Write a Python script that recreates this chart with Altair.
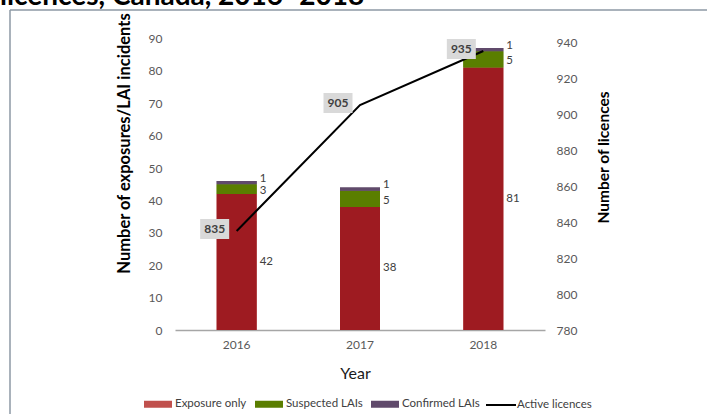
import altair as alt
import pandas as pd

# ---- data ----
years = ["2016", "2017", "2018"]
exposure_only = [42, 38, 81]
suspected_lai = [3, 5, 5]
confirmed_lai = [1, 1, 1]
active_licences = [835, 905, 935]
categories = ["Exposure only", "Suspected LAIs", "Confirmed LAIs"]
line_series = "Active licences"
title_fragment = "licences, Canada, 2016\u20132018"

bar_colors = ["#9e1b21", "#5a7e00", "#604a6b"]
legend_colors = ["#c0504d", "#5a7e00", "#604a6b"]
FONT = "Lato"

rows = []
for i, yr in enumerate(years):
    base = 0
    for k, (cat, vals) in enumerate(zip(categories, [exposure_only, suspected_lai, confirmed_lai])):
        v = vals[i]
        rows.append(dict(year=yr, cat=cat, value=v, ord=k, mid=base + v / 2, label=str(v)))
        base += v
bars_df = pd.DataFrame(rows)
line_df = pd.DataFrame(dict(year=years, licences=active_licences,
                            series=[line_series] * len(years),
                            label=[str(v) for v in active_licences]))
one = pd.DataFrame({"a": [0]})

X = alt.X("year:N", sort=years,
          scale=alt.Scale(type="band", paddingInner=0, paddingOuter=0),
          axis=alt.Axis(labelAngle=0, ticks=False, domainColor="#a6a6a6", domainWidth=1.5,
                        labelPadding=9, labelColor="#595959", labelFontSize=12, labelFont=FONT,
                        title="Year", titleFont=FONT, titleFontSize=16, titleFontWeight="normal",
                        titleColor="#1a1a1a", titleX=180, titleY=48, titleBaseline="alphabetic",
                        titleAlign="center"))

left_axis = alt.Axis(values=list(range(0, 101, 10)),
                     labelExpr="datum.value == 100 ? '' : datum.label",
                     domain=False, ticks=False, grid=False, labelPadding=13,
                     labelColor="#595959", labelFont=FONT, labelFontSize=12,
                     title="Number of exposures/LAI incidents", titleFont=FONT, titleFontSize=16.5,
                     titleFontWeight="bold", titleColor="#000000", titleX=-46, titleY=137,
                     titleAngle=270, titleAlign="center", titleBaseline="alphabetic")
right_axis = alt.Axis(orient="right", values=list(range(780, 961, 20)),
                      labelExpr="datum.value == 960 ? '' : datum.label",
                      domain=False, ticks=False, grid=False, labelPadding=11,
                      labelColor="#595959", labelFont=FONT, labelFontSize=12,
                      title="Number of licences", titleFont=FONT, titleFontSize=15.5,
                      titleFontWeight="bold", titleColor="#000000", titleX=63, titleY=151,
                      titleAngle=270, titleAlign="center", titleBaseline="alphabetic")

ybar_scale = alt.Scale(domain=[0, 100], nice=False, zero=True)
yline_scale = alt.Scale(domain=[780, 960], nice=False, zero=False)

bars_legend = alt.Chart(bars_df).mark_bar(size=40).encode(
    x=X,
    y=alt.Y("value:Q", stack="zero", scale=ybar_scale, axis=left_axis),
    order=alt.Order("ord:Q", sort="ascending"),
    color=alt.Color("cat:N", scale=alt.Scale(domain=categories, range=legend_colors),
                    legend=alt.Legend(orient="none", legendX=-31, legendY=384,
                                      direction="horizontal", title=None,
                                      symbolType="M-1,-0.25H1V0.25H-1Z", symbolSize=784,
                                      symbolStrokeWidth=0, labelOffset=3, columnPadding=8,
                                      labelFont=FONT, labelFontSize=11.5, labelColor="#404040")),
)

bars_real = alt.Chart(bars_df).mark_bar(size=40).encode(
    x=X,
    y=alt.Y("value:Q", stack="zero", scale=ybar_scale, axis=None),
    order=alt.Order("ord:Q", sort="ascending"),
    fill=alt.Fill("cat:N", scale=alt.Scale(domain=categories, range=bar_colors), legend=None),
)


def seg_text(cat, dy):
    return alt.Chart(bars_df).transform_filter(alt.datum.cat == cat).mark_text(
        align="left", dx=23, dy=dy, font=FONT, fontSize=11.5, color="#404040").encode(
        x=X,
        y=alt.Y("mid:Q", scale=ybar_scale, axis=None),
        text="label:N",
    )


bar_texts = [seg_text(categories[0], 0), seg_text(categories[1], 2), seg_text(categories[2], -4)]

line = alt.Chart(line_df).mark_line(strokeWidth=2).encode(
    x=X,
    y=alt.Y("licences:Q", scale=yline_scale, axis=right_axis),
    stroke=alt.Stroke("series:N", scale=alt.Scale(domain=[line_series], range=["#000000"]),
                      legend=alt.Legend(orient="none", legendX=310, legendY=383,
                                        direction="horizontal", title=None,
                                        symbolType="stroke", symbolSize=900,
                                        symbolStrokeWidth=2, labelOffset=0,
                                        labelFont=FONT, labelFontSize=11.5,
                                        labelColor="#404040")),
)

boxes = alt.Chart(line_df).mark_point(shape="M-1.45,-1H1.45V1H-1.45Z", size=400, filled=True,
                                      fill="#d9d9d9", opacity=1, strokeWidth=0,
                                      xOffset=-22, yOffset=-2).encode(
    x=X,
    y=alt.Y("licences:Q", scale=yline_scale, axis=None),
)

box_text = alt.Chart(line_df).mark_text(dx=-22, dy=-2, font=FONT, fontSize=12,
                                        fontWeight="bold", color="#404040").encode(
    x=X,
    y=alt.Y("licences:Q", scale=yline_scale, axis=None),
    text="label:N",
)

border_v = alt.Chart(one).mark_rule(color="#8c99a5", strokeWidth=1.5).encode(
    x=alt.value(-165), y=alt.value(4), y2=alt.value(430))
border_h = alt.Chart(one).mark_rule(color="#8c99a5", strokeWidth=1.5).encode(
    x=alt.value(-165), x2=alt.value(560), y=alt.value(4))

title_text = alt.Chart(one).mark_text(align="left", baseline="alphabetic", font=FONT,
                                      fontSize=28, fontWeight="bold", color="#000000").encode(
    x=alt.value(-175), y=alt.value(-1), text=alt.value(title_fragment))

chart = alt.layer(
    title_text, border_v, border_h, bars_legend, bars_real, *bar_texts, line, boxes, box_text
).resolve_scale(y="independent").properties(
    width=370, height=324,
    autosize=alt.AutoSizeParams(type="none"),
    padding={"left": 175, "top": 6, "right": 162, "bottom": 84},
).configure_view(stroke=None)

chart.save("out.html", embed_options={"renderer": "svg", "actions": False})
